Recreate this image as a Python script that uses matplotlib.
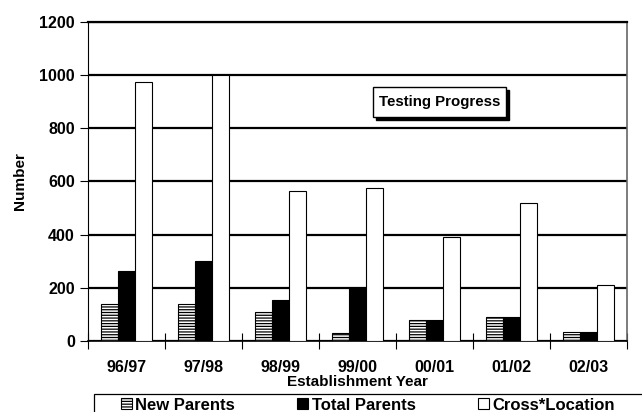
import matplotlib.pyplot as plt
import matplotlib.patches as mpatches
import numpy as np

plt.rcParams['font.family'] = ['Liberation Sans', 'DejaVu Sans']
plt.rcParams['font.weight'] = 'bold'
plt.rcParams['hatch.linewidth'] = 0.9

years = ["96/97", "97/98", "98/99", "99/00", "00/01", "01/02", "02/03"]
new_parents = [140, 140, 110, 30, 80, 90, 35]
total_parents = [265, 300, 155, 200, 80, 90, 35]
cross_location = [975, 1000, 565, 575, 390, 520, 210]

fig = plt.figure(figsize=(6.42, 4.12), dpi=100)
W, H = 642, 412
ax = fig.add_axes([88 / W, 1 - 341 / H, (627 - 88) / W, (341 - 22) / H])

x = np.arange(len(years))
bw = 0.223
b1 = ax.bar(x - bw, new_parents, bw, facecolor="white", edgecolor="black",
            hatch="------", linewidth=0.8, zorder=3, label="New Parents")
b2 = ax.bar(x, total_parents, bw, facecolor="black", edgecolor="black",
            linewidth=0.8, zorder=3, label="Total Parents")
b3 = ax.bar(x + bw, cross_location, bw, facecolor="white", edgecolor="black",
            linewidth=0.8, zorder=3, label="Cross*Location")

ax.set_ylim(0, 1200)
ax.set_yticks(range(0, 1201, 200))
ax.set_xlim(-0.5, 6.5)
ax.set_xticks(x)
ax.set_xticklabels(years, fontsize=11.5, fontweight="bold")
ax.set_xticks(np.arange(-0.5, 7, 1), minor=True)
ax.tick_params(axis="x", which="major", length=0, pad=14)
ax.tick_params(axis="x", which="minor", direction="inout", length=11, width=0.8)
ax.tick_params(axis="y", direction="out", length=6, width=0.8, labelsize=11.5)
for lab in ax.get_yticklabels():
    lab.set_fontweight("bold")

ax.yaxis.grid(True, color="black", linewidth=1.6, zorder=1)
ax.set_axisbelow(True)
ax.spines["top"].set_linewidth(1.6)
ax.spines["right"].set_linewidth(1.2)
ax.spines["right"].set_color("#666666")
ax.spines["left"].set_linewidth(0.8)
ax.spines["bottom"].set_linewidth(1.2)

ax.set_xlabel("Establishment Year", fontsize=11, fontweight="bold", labelpad=0)
ax.set_ylabel("Number", fontsize=11, fontweight="bold", labelpad=9)

# title box with drop shadow
fig.patches.append(mpatches.Rectangle((376 / W, 1 - 120 / H), 133 / W, 30 / H,
                                      transform=fig.transFigure, facecolor="black",
                                      edgecolor="black", zorder=4))
fig.patches.append(mpatches.Rectangle((373 / W, 1 - 117 / H), 133 / W, 30 / H,
                                      transform=fig.transFigure, facecolor="white",
                                      edgecolor="black", linewidth=1.0, zorder=5))
fig.text(439.5 / W, 1 - 102 / H, "Testing Progress", ha="center", va="center",
         fontsize=10.8, fontweight="bold", zorder=6)

# legend frame (cut off by figure edge)
fig.patches.append(mpatches.Rectangle((94 / W, -0.05), (700 - 94) / W, 0.05 + 1 - 394 / H,
                                      transform=fig.transFigure, facecolor="white",
                                      edgecolor="black", linewidth=0.9))
fig.legend(handles=[b1, b2, b3], loc="center left", ncol=3,
           bbox_to_anchor=(114 / W, 1 - 405 / H), frameon=False,
           fontsize=12, handlelength=0.65, handleheight=0.65,
           handletextpad=0.22, columnspacing=3.75, borderaxespad=0)

fig.savefig("out.png", dpi=100)
